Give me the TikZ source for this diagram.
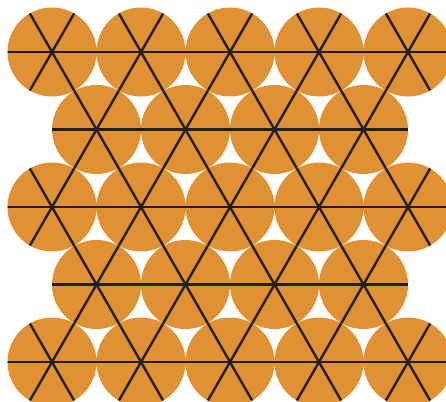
\documentclass[tikz,border=0pt]{standalone}
\definecolor{disc}{RGB}{224,145,52}
\definecolor{lat}{RGB}{34,31,27}
\tikzset{
  hline/.style={draw=lat, line width=2.6pt},
  dline/.style={draw=lat, line width=2.4pt}
}
\newcommand{\discpath}{%
  \foreach \j in {0,2,4}{\foreach \i in {0,...,4}{({52+89*\i},{52+77.5*\j}) circle (44.5)}}
  \foreach \j in {1,3}{\foreach \i in {0,...,3}{({96.5+89*\i},{52+77.5*\j}) circle (44.5)}}%
}
\begin{document}
\begin{tikzpicture}[x=1pt,y=-1pt]
\useasboundingbox (0,0) rectangle (446,401);
\clip (0,0) rectangle (446,401);
\fill[disc] \discpath;
\begin{scope}
  \clip \discpath;
  \foreach \j in {0,...,4}{
    \draw[hline] (0,{52+77.5*\j}) -- (446,{52+77.5*\j});
  }
  \foreach \k in {-4,...,10}{
    \draw[dline] ({52+89*\k-44.5*2},{52-77.5*2}) -- ({52+89*\k+44.5*7},{52+77.5*7});
    \draw[dline] ({52+89*\k+44.5*2},{52-77.5*2}) -- ({52+89*\k-44.5*7},{52+77.5*7});
  }
\end{scope}
\end{tikzpicture}
\end{document}
